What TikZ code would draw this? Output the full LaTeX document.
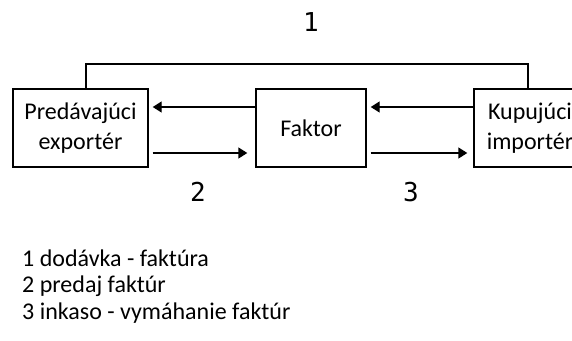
\documentclass[tikz,border=0pt]{standalone}
\usepackage{fontspec}
\setmainfont{Carlito}
\newfontfamily\numfont{DejaVu Sans Mono}
\usetikzlibrary{arrows.meta,calc}
\begin{document}
\begin{tikzpicture}[x=1pt,y=-1pt,
  box/.style={draw,line width=1.4pt,minimum height=78pt,inner sep=0pt,align=center,
    font=\fontsize{24}{30}\selectfont},
  conn/.style={line width=1.4pt},
  arr/.style={line width=1.4pt,-{Triangle[length=9pt,width=11pt]}},
  numlbl/.style={font=\numfont\fontsize{26}{30}\selectfont},
  legend/.style={anchor=west,inner sep=0pt,font=\fontsize{24}{27.5}\selectfont}]
\useasboundingbox (0,0) rectangle (572,340);
\clip (0,0) rectangle (572,340);
\node[box,minimum width=135pt] (exp) at (80.5,128) {Predávajúci\\exportér};
\node[box,minimum width=110pt] (fak) at (311,128) {Faktor};
\node[box,minimum width=112pt] (imp) at (530,128) {Kupujúci\\importér};
\coordinate (tl) at (86,64);
\coordinate (tr) at (528,64);
\draw[conn] (tl |- exp.north) -- (tl) -- (tr) -- (tr |- imp.north);
\draw[arr,shorten >=4pt] ([yshift=21pt]fak.west) -- ([yshift=21pt]exp.east);
\draw[arr,shorten <=4pt,shorten >=8pt] ([yshift=-25pt]exp.east) -- ([yshift=-25pt]fak.west);
\draw[arr,shorten >=4pt] ([yshift=21pt]imp.west) -- ([yshift=21pt]fak.east);
\draw[arr,shorten <=4pt,shorten >=6pt] ([yshift=-25pt]fak.east) -- ([yshift=-25pt]imp.west);
\node[numlbl] (n1) at (311,22) {1};
\node[numlbl] (n2) at (198,192) {2};
\node[numlbl] (n3) at (411,192) {3};
\node[legend] (l1) at (22,258) {1 dodávka - faktúra};
\node[legend] (l2) at (22,286) {2 predaj faktúr};
\node[legend] (l3) at (22,313) {3 inkaso - vymáhanie faktúr};
\end{tikzpicture}
\end{document}
